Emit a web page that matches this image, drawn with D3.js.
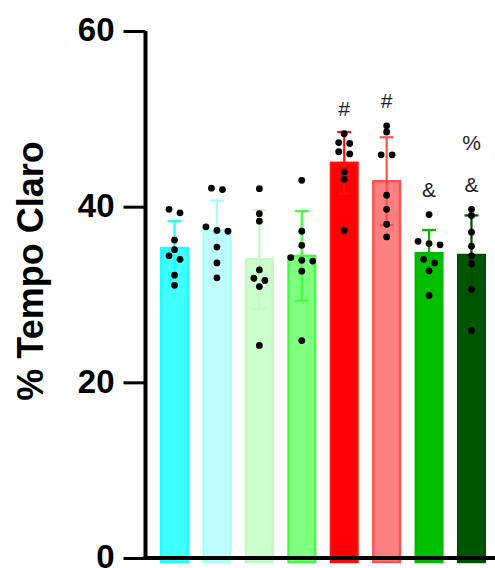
<!DOCTYPE html>
<html>
<head>
  <meta charset="utf-8">
  <script src="https://d3js.org/d3.v7.min.js"></script>
  <style>
    body { margin: 0; background: #fff; }
    svg { display: block; }
    text { font-family: "Liberation Sans", Arial, sans-serif; }
  </style>
</head>
<body>
<script>
  // groups, left to right
  var groups = ["G1", "G2", "G3", "G4", "G5", "G6", "G7", "G8"];

  // bar heights (mean) and SD
  var means = [35.3, 37.3, 34.0, 34.4, 45.0, 42.9, 34.7, 34.5];
  var sds   = [3.05, 3.4, 5.6, 5.1, 3.5, 5.0, 2.65, 4.5];

  // individual animals per group
  var points = [
    [39.7, 39.3, 36.2, 35.1, 34.4, 34.0, 32.2, 31.05],
    [42.1, 41.95, 37.7, 37.3, 37.2, 35.4, 33.6, 31.9],
    [42.05, 39.2, 38.35, 32.8, 31.85, 31.6, 30.9, 24.2],
    [43.0, 37.2, 35.6, 34.2, 33.9, 33.8, 32.65, 24.75],
    [48.3, 47.3, 47.2, 46.25, 46.0, 43.95, 43.1, 37.3],
    [49.2, 48.5, 45.9, 45.9, 41.3, 39.7, 38.0, 36.55],
    [39.1, 36.05, 35.8, 35.65, 34.0, 33.6, 32.7, 29.9],
    [39.7, 39.0, 37.1, 35.5, 34.4, 33.5, 30.6, 25.9]
  ];

  // significance marks, bottom to top
  var marks = [[], [], [], [], ["#"], ["#"], ["&"], ["&", "%"]];

  var fills   = ["#40ffff", "#c0ffff", "#ccffcc", "#80ff80", "#ff0000", "#ff8080", "#00c000", "#005500"];
  var strokes = ["#1cffff", "#a6ffff", "#c2f8c2", "#40ff40", "#ff1010", "#ff5050", "#00b800", "#004c00"];

  var yTicks = [0, 20, 40, 60];

  var W = 495, H = 568;
  var svg = d3.select("body").append("svg")
      .attr("width", W)
      .attr("height", H);

  var x = d3.scaleBand()
      .domain(groups)
      .range([146, 500])
      .paddingInner(0.316)
      .paddingOuter(0.33);

  var y = d3.scaleLinear()
      .domain([0, 60])
      .range([558, 31]);

  // bars
  svg.selectAll(".bar")
    .data(groups)
    .enter().append("rect")
      .attr("class", "bar")
      .attr("x", function(d) { return x(d) + 1.2; })
      .attr("width", x.bandwidth() - 2.4)
      .attr("y", function(d, i) { return y(means[i]); })
      .attr("height", function(d, i) { return y(0) - y(means[i]) + 4; })
      .attr("fill", function(d, i) { return fills[i]; })
      .attr("stroke", function(d, i) { return strokes[i]; })
      .attr("stroke-width", 2.4);

  // error bars (mean +/- SD)
  var eb = svg.selectAll(".err")
    .data(groups)
    .enter().append("g")
      .attr("class", "err")
      .attr("stroke", function(d, i) { return strokes[i]; })
      .attr("stroke-width", 2.2)
      .attr("transform", function(d) { return "translate(" + (x(d) + x.bandwidth() / 2) + ",0)"; });

  eb.append("line")
      .attr("y1", function(d, i) { return y(means[i] - sds[i]); })
      .attr("y2", function(d, i) { return y(means[i] + sds[i]); });
  eb.append("line")
      .attr("x1", -7).attr("x2", 7)
      .attr("y1", function(d, i) { return y(means[i] + sds[i]); })
      .attr("y2", function(d, i) { return y(means[i] + sds[i]); });
  eb.append("line")
      .attr("x1", -7).attr("x2", 7)
      .attr("y1", function(d, i) { return y(means[i] - sds[i]); })
      .attr("y2", function(d, i) { return y(means[i] - sds[i]); });

  // scatter: points that sit too close in y go side by side in a row
  var rowGap = 5.5, colGap = 11;
  function scatter(vals) {
    var sorted = vals.slice().sort(d3.descending);
    var rows = [], out = [];
    sorted.forEach(function(v) {
      var r = rows[rows.length - 1];
      if (r && Math.abs(y(v) - y(r[0])) < rowGap) r.push(v);
      else rows.push([v]);
    });
    rows.forEach(function(r) {
      r.forEach(function(v, k) {
        out.push({ v: v, dx: (k - (r.length - 1) / 2) * colGap });
      });
    });
    return out;
  }

  groups.forEach(function(g, i) {
    var cx = x(g) + x.bandwidth() / 2;
    svg.append("g").selectAll("circle")
      .data(scatter(points[i]))
      .enter().append("circle")
        .attr("cx", function(d) { return cx + d.dx; })
        .attr("cy", function(d) { return y(d.v); })
        .attr("r", 3.4)
        .attr("fill", "#000");

    // significance marks above the highest element
    var top = Math.min(y(means[i] + sds[i]), y(d3.max(points[i])) - 3.4);
    svg.append("g").selectAll("text")
      .data(marks[i])
      .enter().append("text")
        .attr("x", cx)
        .attr("y", function(d, k) { return top - 14 - k * 42; })
        .attr("text-anchor", "middle")
        .attr("font-size", 21)
        .attr("fill", "#222")
        .text(function(d) { return d; });
  });

  // axes
  var yAxis = svg.append("g")
      .attr("transform", "translate(145.5,0)")
      .call(d3.axisLeft(y).tickValues(yTicks).tickSize(22).tickPadding(9));
  yAxis.select(".domain")
      .attr("d", "M0," + (y(0) + 2) + "V" + y(60))
      .attr("stroke", "#000")
      .attr("stroke-width", 4);
  yAxis.selectAll(".tick line").attr("stroke", "#000").attr("stroke-width", 3);
  yAxis.selectAll(".tick text")
      .attr("font-size", 33)
      .attr("font-weight", "bold")
      .attr("font-family", "'Liberation Sans', Arial, sans-serif")
      .attr("fill", "#000")
      .attr("dy", "0.3em");

  svg.append("line")
      .attr("x1", 143.5).attr("x2", W)
      .attr("y1", y(0)).attr("y2", y(0))
      .attr("stroke", "#000")
      .attr("stroke-width", 4);

  svg.append("text")
      .attr("transform", "translate(43,271) rotate(-90)")
      .attr("text-anchor", "middle")
      .attr("font-size", 36)
      .attr("font-weight", "bold")
      .attr("fill", "#000")
      .text("% Tempo Claro");
</script>
</body>
</html>
